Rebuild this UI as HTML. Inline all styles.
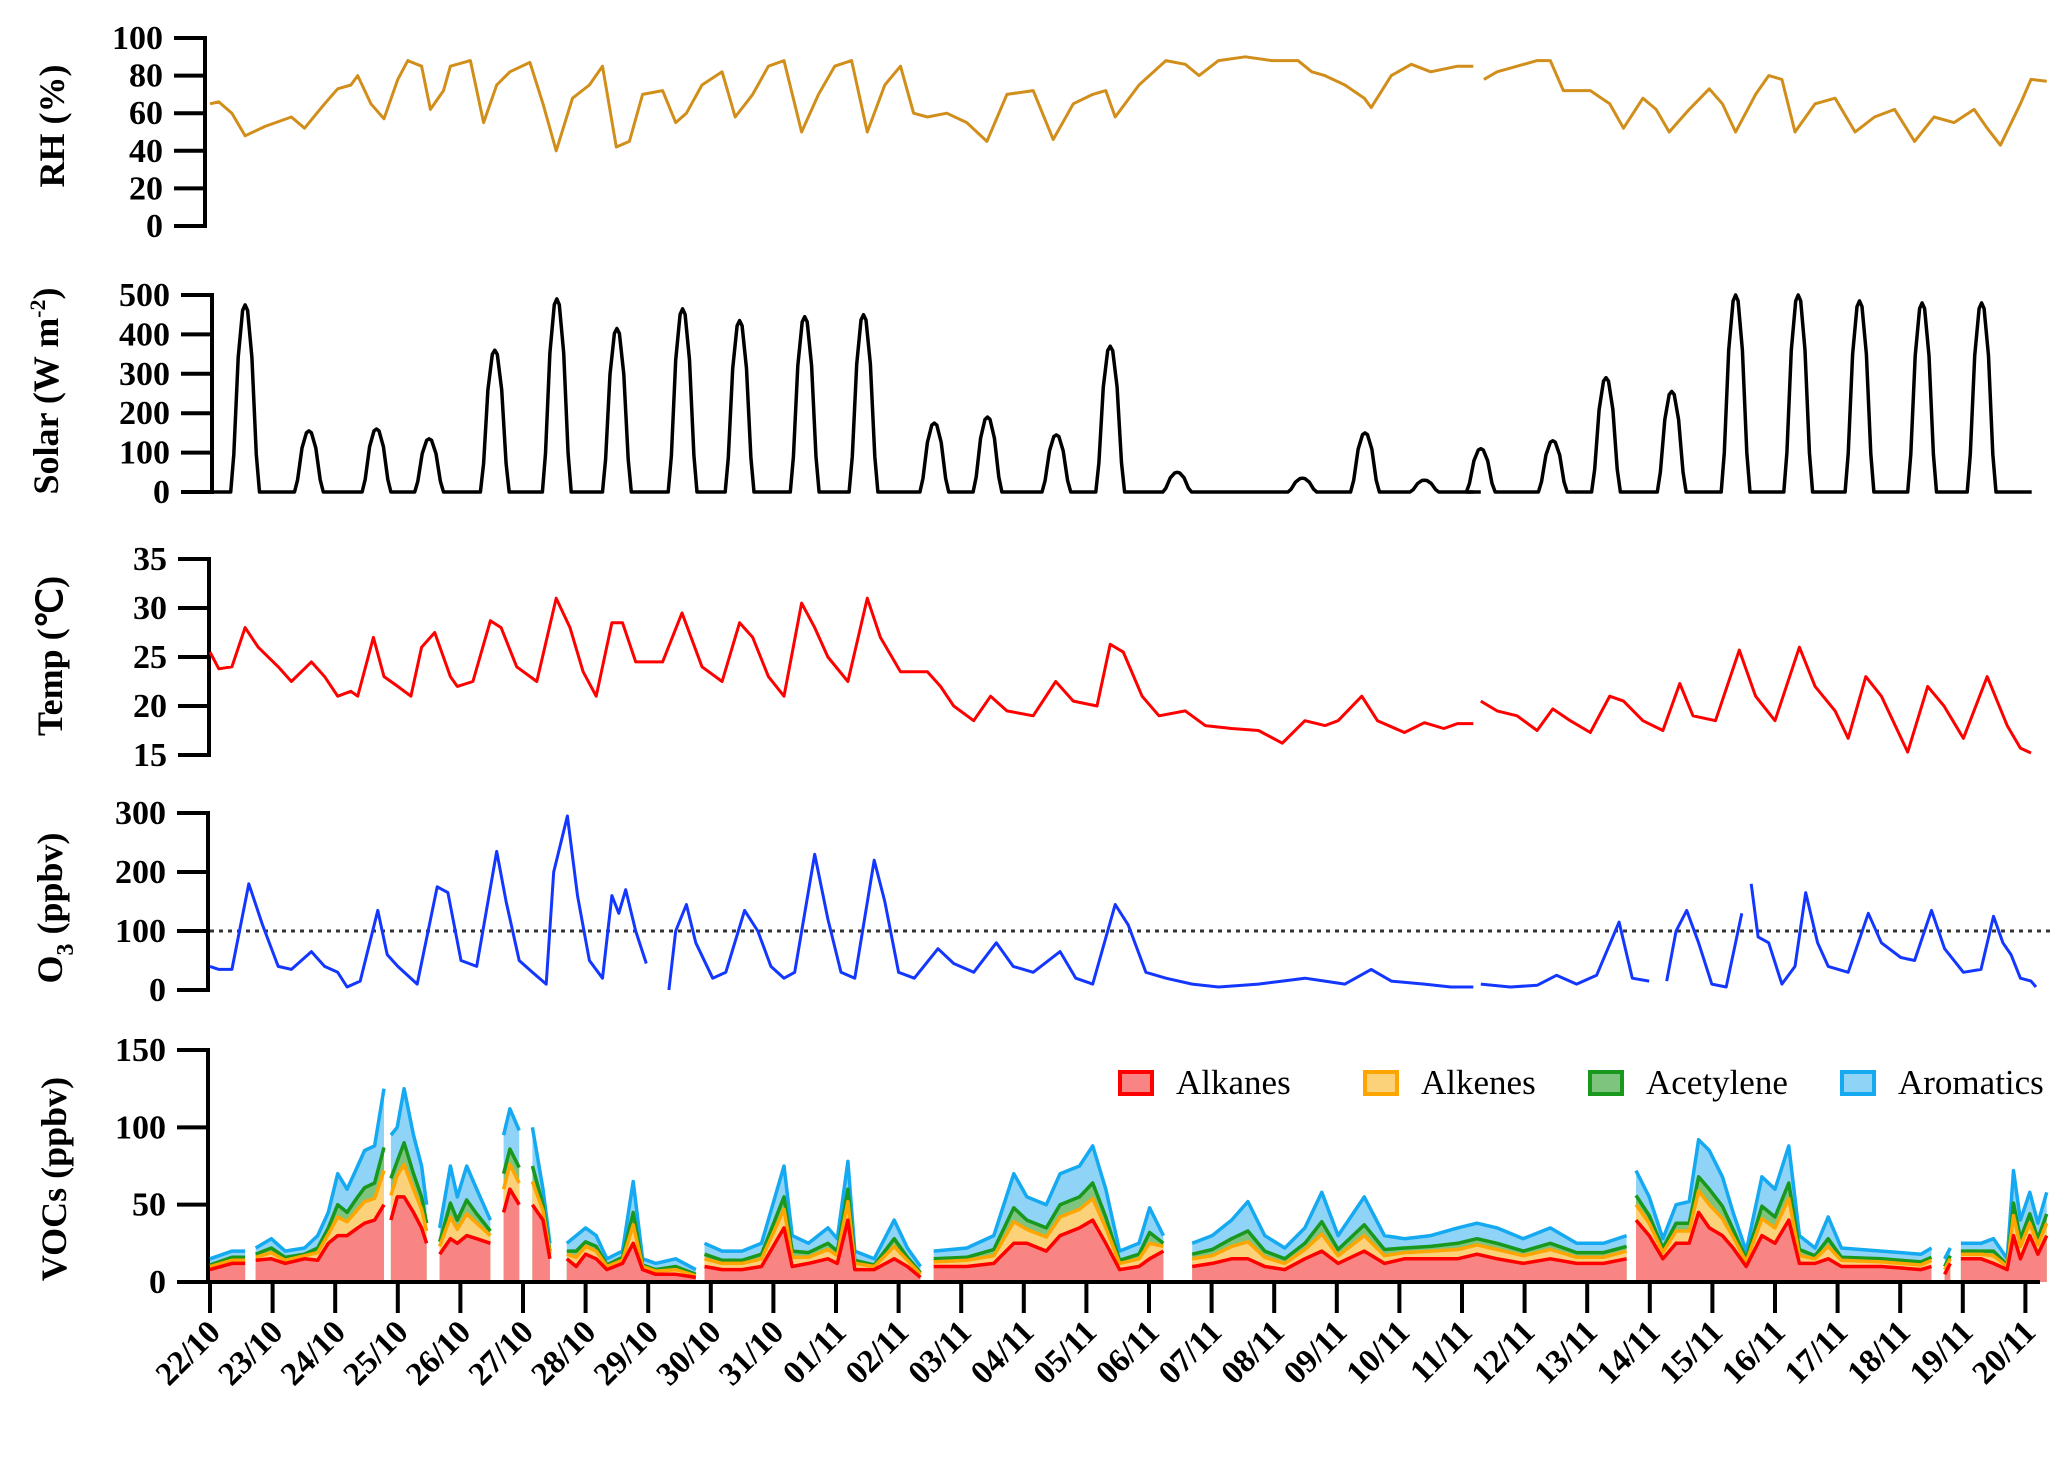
<!DOCTYPE html>
<html><head><meta charset="utf-8"><style>
html,body{margin:0;padding:0;background:#fff;}
svg text{font-family:"Liberation Serif",serif;}
</style></head><body>
<svg id="c" width="2067" height="1455" viewBox="0 0 2067 1455"></svg>
<script>
// ---- data (t = days since 22/10 00:00) ----
const dateLabels=["22/10","23/10","24/10","25/10","26/10","27/10","28/10","29/10","30/10","31/10","01/11","02/11","03/11","04/11","05/11","06/11","07/11","08/11","09/11","10/11","11/11","12/11","13/11","14/11","15/11","16/11","17/11","18/11","19/11","20/11"];
const rhT=[0,.14,.35,.56,.88,1.3,1.51,1.83,2.04,2.25,2.36,2.57,2.78,3.0,3.16,3.38,3.52,3.73,3.84,4.16,4.37,4.58,4.79,5.11,5.32,5.53,5.79,6.06,6.27,6.49,6.7,6.91,7.23,7.44,7.61,7.86,8.18,8.39,8.67,8.92,9.17,9.45,9.72,9.98,10.25,10.5,10.78,11.03,11.24,11.46,11.77,12.09,12.41,12.73,13.15,13.47,13.79,14.1,14.31,14.46,14.84,15.27,15.58,15.8,16.11,16.54,16.96,17.38,17.6,17.81,18.13,18.44,18.55,18.87,19.19,19.5,19.93,20.18,null,20.35,20.56,20.88,21.2,21.41,21.62,22.05,22.36,22.58,22.89,23.1,23.31,23.63,23.95,24.16,24.37,24.69,24.9,25.11,25.32,25.64,25.96,26.28,26.59,26.91,27.23,27.54,27.86,28.18,28.39,28.6,28.92,29.09,29.34];
const rhV=[65,66,60,48,53,58,52,65,73,75,80,65,57,78,88,85,62,72,85,88,55,75,82,87,65,40,68,75,85,42,45,70,72,55,60,75,82,58,70,85,88,50,70,85,88,50,75,85,60,58,60,55,45,70,72,46,65,70,72,58,75,88,86,80,88,90,88,88,82,80,75,68,63,80,86,82,85,85,null,78,82,85,88,88,72,72,65,52,68,62,50,62,73,65,50,70,80,78,50,65,68,50,58,62,45,58,55,62,52,43,65,78,77];
const solarPeakT=[0.56,1.58,2.66,3.5,4.55,5.54,6.5,7.55,8.46,9.5,10.44,11.57,12.42,13.52,14.38,15.45,17.45,18.45,19.4,20.3,21.45,22.3,23.35,24.37,25.37,26.35,27.35,28.3];
const solarPeakV=[475,155,160,135,360,490,415,465,435,445,450,175,190,145,370,50,35,150,30,110,130,290,255,500,500,485,480,480];
const solarSegments=[[0,20.18],[20.3,29.1]];
const tempT=[0,.14,.35,.56,.77,1.09,1.3,1.62,1.83,2.04,2.25,2.36,2.61,2.78,3.0,3.21,3.38,3.59,3.84,3.95,4.2,4.48,4.65,4.9,5.22,5.53,5.75,5.96,6.17,6.42,6.59,6.8,7.23,7.54,7.86,8.18,8.46,8.67,8.92,9.17,9.45,9.66,9.87,10.19,10.5,10.71,11.03,11.46,11.67,11.88,12.2,12.47,12.73,13.15,13.51,13.79,14.17,14.38,14.59,14.89,15.16,15.58,15.9,16.32,16.75,17.13,17.49,17.81,18.02,18.4,18.65,19.08,19.4,19.71,19.93,20.18,null,20.3,20.56,20.88,21.2,21.45,21.73,22.05,22.36,22.58,22.89,23.21,23.48,23.69,24.05,24.43,24.69,25.0,25.39,25.64,25.96,26.17,26.45,26.7,27.12,27.44,27.7,28.01,28.39,28.71,28.92,29.09];
const tempV=[25.5,23.8,24,28,26,24,22.5,24.5,23,21,21.5,21,27,23,22,21,26,27.5,23,22,22.5,28.7,28,24,22.5,31,28,23.5,21,28.5,28.5,24.5,24.5,29.5,24,22.5,28.5,27,23,21,30.5,28,25,22.5,31,27,23.5,23.5,22,20,18.5,21,19.5,19,22.5,20.5,20,26.3,25.5,21,19,19.5,18,17.7,17.5,16.2,18.5,18,18.5,21,18.5,17.3,18.3,17.7,18.2,18.2,null,20.5,19.5,19,17.5,19.7,18.5,17.3,21,20.5,18.5,17.5,22.3,19,18.5,25.7,21,18.5,26,22,19.5,16.7,23,21,15.3,22,20,16.7,23,18,15.7,15.2];
const o3T=[0,.14,.35,.62,.84,1.09,1.3,1.62,1.83,2.04,2.19,2.4,2.68,2.83,3.0,3.31,3.63,3.8,4.01,4.26,4.58,4.73,4.94,5.15,5.37,5.49,5.71,5.87,6.06,6.27,6.42,6.53,6.64,6.8,6.97,null,7.33,7.44,7.61,7.76,8.03,8.24,8.54,8.75,8.96,9.17,9.34,9.66,9.87,10.08,10.3,10.61,10.78,11.0,11.25,11.63,11.88,12.2,12.56,12.83,13.15,13.58,13.83,14.1,14.46,14.67,14.95,15.27,15.69,16.11,16.75,17.13,17.49,17.81,18.13,18.55,18.87,19.4,19.82,20.18,null,20.3,20.77,21.2,21.51,21.83,22.15,22.51,22.72,22.99,null,23.27,23.42,23.59,23.78,23.99,24.22,24.47,null,24.62,24.73,24.9,25.11,25.32,25.49,25.68,25.85,26.17,26.49,26.7,27.01,27.23,27.5,27.71,28.01,28.29,28.49,28.64,28.77,28.92,29.09,29.17];
const o3V=[40,35,35,180,110,40,35,65,40,30,5,15,135,60,40,10,175,165,50,40,235,150,50,30,10,200,295,160,50,20,160,130,170,100,45,null,0,100,145,80,20,30,135,100,40,20,30,230,120,30,20,220,150,30,20,70,45,30,80,40,30,65,20,10,145,110,30,20,10,5,10,15,20,15,10,35,15,10,5,5,null,10,5,8,25,10,25,115,20,15,null,15,100,135,80,10,5,130,null,180,90,80,10,40,165,80,40,30,130,80,55,50,135,70,30,35,125,80,60,20,15,5];
const vocT=[0,.35,.56,null,.73,.98,1.2,1.51,1.72,1.89,2.04,2.19,2.36,2.47,2.63,2.78,null,2.89,2.99,3.1,3.25,3.38,3.46,null,3.67,3.84,3.95,4.1,4.26,4.48,null,4.69,4.79,4.94,null,5.15,5.32,5.43,null,5.7,5.85,6.0,6.17,6.34,6.59,6.76,6.91,7.12,7.44,7.76,null,7.9,8.18,8.5,8.81,9.17,9.3,9.56,9.87,10.02,10.19,10.3,10.61,10.93,11.14,11.35,null,11.56,12.09,12.52,12.84,13.05,13.36,13.58,13.89,14.1,14.31,14.53,14.84,15.01,15.23,null,15.69,16.01,16.32,16.58,16.85,17.17,17.49,17.76,18.02,18.44,18.76,19.08,19.5,19.93,20.24,20.56,20.98,21.41,21.83,22.26,22.63,null,22.78,22.99,23.21,23.42,23.63,23.78,23.95,24.16,24.33,24.54,24.79,25.0,25.22,25.39,25.64,25.85,26.06,26.7,27.33,27.5,null,27.71,27.8,null,27.97,28.29,28.49,28.71,28.81,28.92,29.07,29.2,29.34];
const alkanes=[8,12,12,null,14,15,12,15,14,25,30,30,35,38,40,50,null,40,55,55,45,35,25,null,18,28,25,30,28,25,null,45,60,50,null,50,40,15,null,15,10,18,15,8,12,25,8,5,5,3,null,10,8,8,10,35,10,12,15,12,40,8,8,15,10,3,null,10,10,12,25,25,20,30,35,40,25,8,10,15,20,null,10,12,15,15,10,8,15,20,12,20,12,15,15,15,18,15,12,15,12,12,15,null,40,30,15,25,25,45,35,30,22,10,30,25,40,12,12,15,10,10,8,10,null,5,12,null,15,15,12,8,30,15,30,18,30];
const alkenes=[2,2,2,null,2,4,2,2,5,6,12,9,12,14,14,22,null,16,14,21,15,12,8,null,5,14,9,14,10,5,null,15,16,14,null,15,6,3,null,3,6,5,5,2,2,12,2,2,3,1,null,5,4,4,5,12,6,4,6,5,12,4,2,8,4,2,null,3,4,5,14,9,9,12,12,14,10,4,5,10,3,null,5,5,8,11,6,4,6,11,5,10,5,4,5,6,6,6,5,6,4,4,5,null,10,8,4,8,8,14,15,11,7,3,11,10,14,5,3,8,4,3,3,4,null,3,3,null,3,3,5,2,13,8,8,6,8];
const acetylene=[1,2,2,null,2,3,2,1,3,4,8,6,8,9,10,15,null,11,9,14,10,8,5,null,3,9,6,9,6,3,null,10,10,10,null,10,4,2,null,2,4,3,3,1,2,8,1,1,2,1,null,3,2,2,3,8,4,3,4,3,8,2,1,5,2,1,null,2,2,4,9,6,6,8,8,10,7,2,3,7,2,null,3,4,5,7,4,3,4,8,4,7,4,3,3,4,4,4,3,4,3,3,3,null,6,5,3,5,5,9,10,8,5,2,8,7,10,4,2,5,2,2,2,2,null,2,2,null,2,2,3,1,8,5,6,4,6];
const aromatics=[4,4,4,null,4,6,4,4,8,10,20,15,20,24,24,38,null,28,22,35,25,20,12,null,9,24,15,22,16,7,null,25,26,24,null,25,10,5,null,5,10,9,7,4,4,20,4,4,5,3,null,7,6,6,7,20,10,6,10,8,18,6,4,12,6,4,null,5,6,9,22,15,15,20,20,24,18,6,7,16,5,null,7,9,12,19,10,7,10,19,9,18,9,6,7,10,10,10,8,10,6,6,7,null,16,12,6,12,14,24,25,19,11,5,19,18,24,9,5,14,6,5,5,6,null,5,5,null,5,5,8,4,21,12,14,10,14];
const rhTicks=[0,20,40,60,80,100], solarTicks=[0,100,200,300,400,500], tempTicks=[15,20,25,30,35], o3Ticks=[0,100,200,300], vocTicks=[0,50,100,150];

// ---- layout ----
const NS="http://www.w3.org/2000/svg";
const svg=document.getElementById('c');
const X0=210, DAY=62.6;
function xs(t){return X0+t*DAY;}
const panels={
 rh:{y0:226,y1:38,v0:0,v1:100,ax:205},
 solar:{y0:492,y1:295,v0:0,v1:500,ax:212},
 temp:{y0:755,y1:559,v0:15,v1:35,ax:209},
 o3:{y0:990,y1:813,v0:0,v1:300,ax:208},
 voc:{y0:1282,y1:1050,v0:0,v1:150,ax:208}
};
function ys(p,v){return p.y0+(v-p.v0)/(p.v1-p.v0)*(p.y1-p.y0);}
function mk(tag,attrs,parent){const e=document.createElementNS(NS,tag);for(const k in attrs)e.setAttribute(k,attrs[k]);(parent||svg).appendChild(e);return e;}

function yAxis(p,ticks,name){
  const g=mk('g',{});
  
  
  mk('line',{x1:p.ax,x2:p.ax,y1:ys(p,p.v1)-2,y2:ys(p,p.v0)+2,stroke:'#000','stroke-width':4},g);
  ticks.forEach(v=>{
    const y=ys(p,v);
    mk('line',{x1:p.ax-31,x2:p.ax,y1:y,y2:y,stroke:'#000','stroke-width':4},g);
    const t=mk('text',{x:p.ax-42,y:y+11,'text-anchor':'end','font-size':34,'font-weight':'bold'},g);
    t.textContent=v;
    
    
  });
  return g;
}
function linePath(T,V,p){
  let d='',pen=false;
  for(let i=0;i<T.length;i++){
    if(T[i]===null||V[i]===null){pen=false;continue;}
    d+=(pen?'L':'M')+xs(T[i]).toFixed(1)+' '+ys(p,V[i]).toFixed(1);pen=true;
  }
  return d;
}

// RH
yAxis(panels.rh,rhTicks,'rh');
let tt=mk('text',{transform:'translate(64,126) rotate(-90)','text-anchor':'middle','font-size':36,'font-weight':'bold'});tt.textContent='RH (%)';

let pl=mk('path',{d:linePath(rhT,rhV,panels.rh),fill:'none',stroke:'#D18E1A','stroke-width':3,'stroke-linejoin':'round'});


// Solar
yAxis(panels.solar,solarTicks,'solar');
tt=mk('text',{transform:'translate(58,391) rotate(-90)','text-anchor':'middle','font-size':36,'font-weight':'bold'});
tt.innerHTML='Solar (W m<tspan dy="-13" font-size="22">-2</tspan><tspan dy="13">)</tspan>';

(function(){
  const p=panels.solar;
  solarSegments.forEach(seg=>{
    const T=[seg[0]],V=[0];
    solarPeakT.forEach((pt,i)=>{
      if(pt<seg[0]||pt>seg[1])return;
      const v=solarPeakV[i];
      [[-0.23,0],[-0.18,0.2],[-0.11,0.72],[-0.04,0.97],[0,1],[0.04,0.97],[0.11,0.72],[0.18,0.2],[0.23,0]].forEach(s=>{T.push(pt+s[0]);V.push(v*s[1]);});
    });
    T.push(seg[1]);V.push(0);
    const e=mk('path',{d:linePath(T,V,p),fill:'none',stroke:'#000','stroke-width':3.5,'stroke-linejoin':'round'});
    
  });
})();

// Temp
yAxis(panels.temp,tempTicks,'temp');
tt=mk('text',{transform:'translate(62,656) rotate(-90)','text-anchor':'middle','font-size':36,'font-weight':'bold'});tt.textContent='Temp (\u2103)';

pl=mk('path',{d:linePath(tempT,tempV,panels.temp),fill:'none',stroke:'#FF0000','stroke-width':3,'stroke-linejoin':'round'});


// O3
yAxis(panels.o3,o3Ticks,'o3');
tt=mk('text',{transform:'translate(62,908) rotate(-90)','text-anchor':'middle','font-size':36,'font-weight':'bold'});
tt.innerHTML='O<tspan dy="11" font-size="24">3</tspan><tspan dy="-11"> (ppbv)</tspan>';

pl=mk('line',{x1:xs(0),x2:xs(29.4),y1:ys(panels.o3,100),y2:ys(panels.o3,100),stroke:'#333','stroke-width':3,'stroke-dasharray':'4 5'});

pl=mk('path',{d:linePath(o3T,o3V,panels.o3),fill:'none',stroke:'#1437FF','stroke-width':3,'stroke-linejoin':'round'});


// VOCs
const pv=panels.voc;
yAxis(pv,vocTicks,'voc');
tt=mk('text',{transform:'translate(66,1179) rotate(-90)','text-anchor':'middle','font-size':36,'font-weight':'bold'});tt.textContent='VOCs (ppbv)';

(function(){
  const layers=[
    {name:'aromatics',fill:'#8FD3F7',stroke:'#14A9F0'},
    {name:'acetylene',fill:'#7EC47E',stroke:'#18981C'},
    {name:'alkenes',fill:'#FBD27A',stroke:'#FFA500'},
    {name:'alkanes',fill:'#F98484',stroke:'#FF0000'}
  ];
  const cum=[[],[],[],[]];
  for(let i=0;i<vocT.length;i++){
    if(vocT[i]===null){cum.forEach(c=>c.push(null));continue;}
    const a=alkanes[i],b=a+alkenes[i],c=b+acetylene[i],d=c+aromatics[i];
    cum[0].push(d);cum[1].push(c);cum[2].push(b);cum[3].push(a);
  }
  const segs=[];let cur=[];
  vocT.forEach((t,i)=>{if(t===null){if(cur.length)segs.push(cur);cur=[];}else cur.push(i);});
  if(cur.length)segs.push(cur);
  layers.forEach((L,li)=>{
    segs.forEach(s=>{
      let d='M'+xs(vocT[s[0]]).toFixed(1)+' '+pv.y0;
      s.forEach(i=>{d+='L'+xs(vocT[i]).toFixed(1)+' '+ys(pv,cum[li][i]).toFixed(1);});
      d+='L'+xs(vocT[s[s.length-1]]).toFixed(1)+' '+pv.y0+'Z';
      const e=mk('path',{d:d,fill:L.fill,stroke:'none'});
      
    });
  });
  layers.forEach((L,li)=>{
    const e=mk('path',{d:linePath(vocT,cum[li],pv),fill:'none',stroke:L.stroke,'stroke-width':3.5,'stroke-linejoin':'round'});
    
  });
})();
// x axis
pl=mk('line',{x1:pv.ax,x2:2040,y1:pv.y0,y2:pv.y0,stroke:'#000','stroke-width':4});

dateLabels.forEach((lab,i)=>{
  const x=xs(i);
  const tk=mk('line',{x1:x,x2:x,y1:pv.y0,y2:pv.y0+31,stroke:'#000','stroke-width':4});
  
  const t=mk('text',{transform:'translate('+(x+12)+','+(pv.y0+52)+') rotate(-45)','text-anchor':'end','font-size':33,'font-weight':'bold'});
  t.textContent=lab;
  
});
// legend
[['Alkanes','#F98484','#FF0000',1120],['Alkenes','#FBD27A','#FFA500',1365],['Acetylene','#7EC47E','#18981C',1590],['Aromatics','#8FD3F7','#14A9F0',1842]].forEach(l=>{
  const g=mk('g',{});
  
  mk('rect',{x:l[3],y:1072,width:32,height:22,fill:l[1],stroke:l[2],'stroke-width':4},g);
  const t=mk('text',{x:l[3]+56,y:1094,'font-size':35},g);t.textContent=l[0];
});
</script>
</body></html>
